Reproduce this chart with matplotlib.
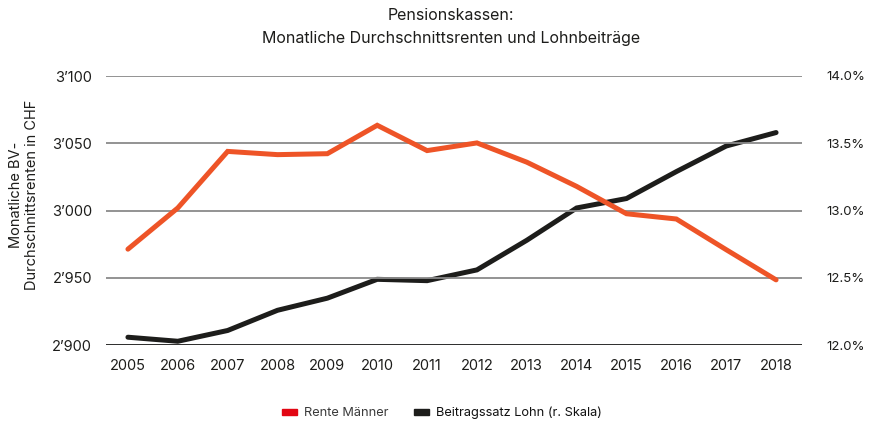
import matplotlib
matplotlib.use("Agg")
import matplotlib.pyplot as plt
from matplotlib.patches import Patch
from matplotlib.ticker import FuncFormatter

plt.rcParams['font.family'] = ['Inter', 'DejaVu Sans']

years = [2005, 2006, 2007, 2008, 2009, 2010, 2011, 2012, 2013, 2014, 2015, 2016, 2017, 2018]
rente_maenner = [2971.4, 3002, 3044, 3041.6, 3042.3, 3063.4, 3044.6, 3050.3, 3036, 3018, 2997.7, 2993.8, 2971, 2948.6]
beitragssatz = [12.06, 12.03, 12.11, 12.26, 12.35, 12.49, 12.48, 12.56, 12.78, 13.02, 13.09, 13.29, 13.48, 13.58]
left_ticks = [2900, 2950, 3000, 3050, 3100]
right_ticks = [12.0, 12.5, 13.0, 13.5, 14.0]

orange = '#ee5427'
black = '#1d1d1b'
legend_red = '#e20613'
text_col = '#1d1d1b'

fig = plt.figure(figsize=(8.71, 4.25), dpi=100)
ax = fig.add_axes([106/871, 1-345.3/425, (802-106)/871, (345.3-76)/425])
ax2 = ax.twinx()

ax.set_xlim(2004.56, 2018.52)
ax.set_ylim(2900, 3100)
ax2.set_ylim(12.0, 14.0)

for t in left_ticks:
    ax.axhline(t, color='#1d1d1b' if t == 2900 else '#8a8a8a', lw=1.3, zorder=1)

ax.plot(years, rente_maenner, color=orange, lw=3.6, solid_capstyle='round', solid_joinstyle='miter', zorder=3)
ax2.plot(years, beitragssatz, color=black, lw=3.6, solid_capstyle='round', solid_joinstyle='miter', zorder=3)
ax.set_zorder(ax2.get_zorder() + 1)
ax.patch.set_visible(False)

for a in (ax, ax2):
    for s in a.spines.values():
        s.set_visible(False)

ax.set_xticks(years)
ax.set_xticklabels([str(y) for y in years], fontsize=10.5, color=text_col)
ax.set_yticks(left_ticks)
ax.yaxis.set_major_formatter(FuncFormatter(lambda v, p: f"{int(v)//1000}\u2019{int(v)%1000:03d}"))
ax.tick_params(axis='both', length=0, labelsize=10.5, colors=text_col)
ax.tick_params(axis='x', pad=10)
ax.tick_params(axis='y', pad=10)

ax2.set_yticks(right_ticks)
ax2.yaxis.set_major_formatter(FuncFormatter(lambda v, p: f"{v:.1f}%"))
ax2.tick_params(axis='y', length=0, labelsize=9.5, colors=text_col, pad=17.5)

fig.text(24/871, 1-195/425, "Monatliche BV-\nDurchschnittsrenten in CHF", rotation=90, ha='center', va='center',
         fontsize=10.5, color=text_col, linespacing=1.15, multialignment='center')

fig.text(451/871, 1-15/425, "Pensionskassen:", ha='center', va='center', fontsize=11.5, color=text_col)
fig.text(451/871, 1-38/425, "Monatliche Durchschnittsrenten und Lohnbeiträge", ha='center', va='center', fontsize=11.5, color=text_col)

handles = [Patch(color=legend_red, label='Rente Männer'), Patch(color=black, label='Beitragssatz Lohn (r. Skala)')]
leg = fig.legend(handles=handles, loc='center', bbox_to_anchor=(441.5/871, 1-413/425), ncol=2, frameon=False,
                 fontsize=9.2, handlelength=1.17, handleheight=0.35, handletextpad=0.55, columnspacing=2.0)
leg.get_texts()[0].set_color('#3a3a3a')
leg.get_texts()[1].set_color('#111111')

fig.savefig('out.png', dpi=100)
